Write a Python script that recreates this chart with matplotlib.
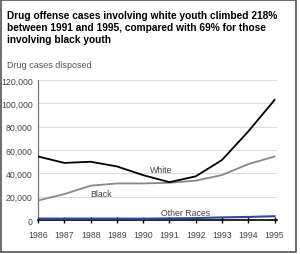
import matplotlib.pyplot as plt
from matplotlib.patches import Rectangle

plt.rcParams['font.family'] = ['Liberation Sans', 'DejaVu Sans']

# 데이터
years = [1986, 1987, 1988, 1989, 1990, 1991, 1992, 1993, 1994, 1995]
white = [54500, 49000, 50000, 46000, 38500, 32500, 37500, 51500, 76000, 103000]
black = [16800, 22300, 29500, 31400, 31400, 32000, 33800, 38600, 48000, 54500]
other = [1300, 1300, 1300, 1300, 1200, 1500, 1700, 2300, 2700, 3300]
yticks = [0, 20000, 40000, 60000, 80000, 100000, 120000]

fig = plt.figure(figsize=(3.0, 2.55), dpi=100)
ax = fig.add_axes([0.127, 0.133, 0.797, 0.549])

for y in yticks[1:]:
    ax.axhline(y, color='#dddddd', lw=0.8, zorder=0)

ax.plot(years, white, color='black', lw=1.3, zorder=3)
ax.plot(years, black, color='#888888', lw=1.3, zorder=2)
ax.plot(years, other, color='#2a4aa8', lw=1.5, zorder=4)

ax.text(1990.7, 43500, 'White', fontsize=6.3, color='#444444', ha='center', va='center')
ax.text(1988.4, 23200, 'Black', fontsize=6.3, color='#444444', ha='center', va='center')
ax.text(1991.6, 6800, 'Other Races', fontsize=6.3, color='#444444', ha='center', va='center')

ax.set_xlim(1986, 1995.1)
ax.set_ylim(0, 120000)
ax.set_xticks(years)
ax.set_xticklabels([str(y) for y in years])
ax.set_yticks(yticks)
ax.set_yticklabels(['{:,}'.format(y) for y in yticks])
ax.tick_params(axis='y', length=0, pad=4, labelsize=6.3, labelcolor='#444444')
ax.tick_params(axis='x', direction='inout', length=4, width=1, color='black', pad=5,
               labelsize=6.3, labelcolor='#444444')
for s in ['top', 'right']:
    ax.spines[s].set_visible(False)
ax.spines['left'].set_color('#777777')
ax.spines['left'].set_linewidth(0.9)
ax.spines['bottom'].set_color('black')
ax.spines['bottom'].set_linewidth(1.2)

fig.text(0.023, 0.955, 'Drug offense cases involving white youth climbed 218%\n'
         'between 1991 and 1995, compared with 69% for those\n'
         'involving black youth',
         fontsize=7.3, fontweight='bold', va='top', ha='left', linespacing=1.2)
fig.text(0.023, 0.745, 'Drug cases disposed', fontsize=6.5, color='#555555', va='center')

fig.patches.append(Rectangle((0.004, 0.008), 0.984, 0.988, transform=fig.transFigure,
                             fill=False, edgecolor='#555555', lw=1.2))

fig.savefig('out.png', dpi=100)
